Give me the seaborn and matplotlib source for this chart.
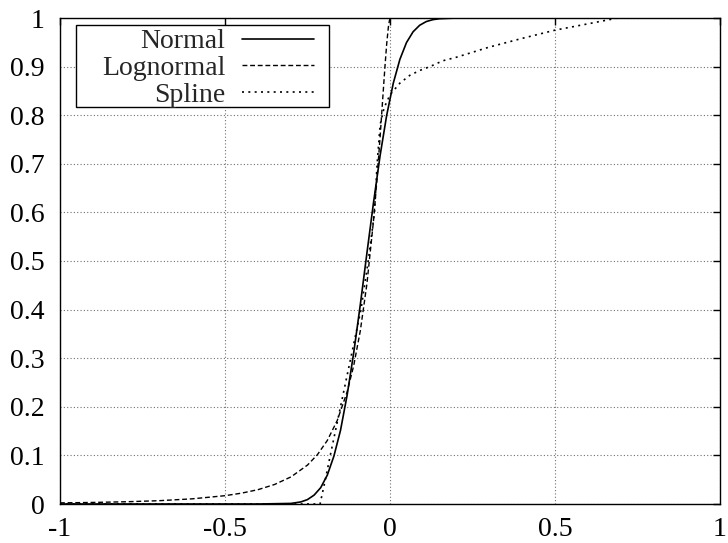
import matplotlib
matplotlib.use("Agg")
import matplotlib.pyplot as plt
from matplotlib.patches import Rectangle
import seaborn as sns
import pandas as pd

# ---- data ----
normal_x = [-1.0, -0.4, -0.3, -0.27, -0.25, -0.23, -0.21, -0.19, -0.17, -0.15, -0.13,
            -0.11, -0.09, -0.07, -0.05, -0.03, -0.01, 0.01, 0.03, 0.05, 0.07, 0.09,
            0.11, 0.13, 0.15, 0.2, 1.0]
normal_y = [0.0, 0.0, 0.0012, 0.0043, 0.0091, 0.0183, 0.0336, 0.0594, 0.0985, 0.1515,
            0.2236, 0.311, 0.41, 0.516, 0.62, 0.717, 0.80, 0.866, 0.915, 0.9495, 0.9717,
            0.9851, 0.9927, 0.9966, 0.9985, 0.9999, 1.0]

logn_x = [-1.0, -0.9, -0.8, -0.7, -0.6, -0.5, -0.45, -0.4, -0.35, -0.3, -0.25, -0.22,
          -0.19, -0.16, -0.13, -0.11, -0.09, -0.07, -0.05, -0.04, -0.03, -0.02, -0.015,
          -0.01, -0.005, -0.002, 0.0, 0.002, 1.0]
logn_y = [0.0023, 0.0032, 0.0046, 0.0068, 0.0106, 0.0171, 0.0223, 0.0295, 0.0401,
          0.0558, 0.0801, 0.1015, 0.1307, 0.1716, 0.2304, 0.2847, 0.3562, 0.4526,
          0.5829, 0.6637, 0.7552, 0.854, 0.9027, 0.9469, 0.981, 0.9938, 0.9982,
          0.9999, 1.0]

spline_x = [-1.0, -0.212, -0.196, -0.181, -0.150, -0.119, -0.088, -0.066, -0.047,
            -0.039, -0.030, -0.018, 0.0, 0.03, 0.06, 0.09, 0.121, 0.16, 0.2, 0.3, 0.4,
            0.5, 0.6, 0.69, 1.0]
spline_y = [0.0, 0.0, 0.05, 0.1, 0.2, 0.3, 0.4, 0.5, 0.6, 0.7, 0.78, 0.815, 0.842,
            0.866, 0.882, 0.892, 0.9, 0.912, 0.919, 0.940, 0.958, 0.975, 0.988, 1.0, 1.0]

series_names = ["Normal", "Lognormal", "Spline"]
x_ticks = [-1, -0.5, 0, 0.5, 1]
y_ticks = [0, 0.1, 0.2, 0.3, 0.4, 0.5, 0.6, 0.7, 0.8, 0.9, 1]

# ---- styling ----
sns.set_style("white")
plt.rcParams["font.family"] = ["Liberation Serif", "DejaVu Serif"]

df = pd.concat([
    pd.DataFrame({"x": normal_x, "y": normal_y, "s": series_names[0]}),
    pd.DataFrame({"x": logn_x, "y": logn_y, "s": series_names[1]}),
    pd.DataFrame({"x": spline_x, "y": spline_y, "s": series_names[2]}),
], ignore_index=True)

W, H = 728, 543
AX_L, AX_R, AX_T, AX_B = 60, 720, 18, 504
fig = plt.figure(figsize=(W / 100, H / 100), dpi=100)
ax = fig.add_axes([AX_L / W, 1 - AX_B / H, (AX_R - AX_L) / W, (AX_B - AX_T) / H])

styles = {
    "Normal": dict(linestyle="-", linewidth=1.2),
    "Lognormal": dict(linestyle=(0, (3.5, 2.0)), linewidth=1.0),
    "Spline": dict(linestyle=(0, (1.2, 2.6)), linewidth=1.2),
}
for name in series_names:
    sub = df[df["s"] == name]
    sns.lineplot(data=sub, x="x", y="y", ax=ax, color="black", estimator=None,
                 sort=False, label=name, **styles[name])

ax.set_xlim(-1, 1)
ax.set_ylim(0, 1)
ax.set_xticks(x_ticks)
ax.set_yticks(y_ticks)
ax.set_xticklabels([f"{t:g}" for t in x_ticks])
ax.set_yticklabels([f"{t:g}" for t in y_ticks])
ax.set_xlabel("")
ax.set_ylabel("")

ax.grid(True, color="#707070", linestyle=(0, (1, 2)), linewidth=0.8)
ax.set_axisbelow(True)
for sp in ax.spines.values():
    sp.set_visible(True)
    sp.set_color("black")
    sp.set_linewidth(1.0)

ax.tick_params(axis="both", which="major", direction="in", length=5, width=1.0,
               color="black", labelsize=20, top=True, right=True,
               labelcolor="black")
ax.tick_params(axis="y", pad=11)
ax.tick_params(axis="x", pad=9)

# legend: gnuplot style, labels right-aligned before the samples
aw, ah = AX_R - AX_L, AX_B - AX_T
def fx(px):
    return (px - AX_L) / aw
def fy(py):
    return 1 - (py - AX_T) / ah

leg = ax.legend(loc="upper right", bbox_to_anchor=(fx(314), fy(29)),
                borderaxespad=0, markerfirst=False, frameon=False,
                fontsize=20, handlelength=2.6, handletextpad=0.6,
                labelspacing=0.04, borderpad=0.0)
ax.add_patch(Rectangle((fx(76), fy(107)), fx(329) - fx(76), fy(25) - fy(107),
                       transform=ax.transAxes, facecolor="white",
                       edgecolor="black", linewidth=1.0, zorder=4.5))
leg.set_zorder(5)

fig.savefig("out.png", dpi=100)
